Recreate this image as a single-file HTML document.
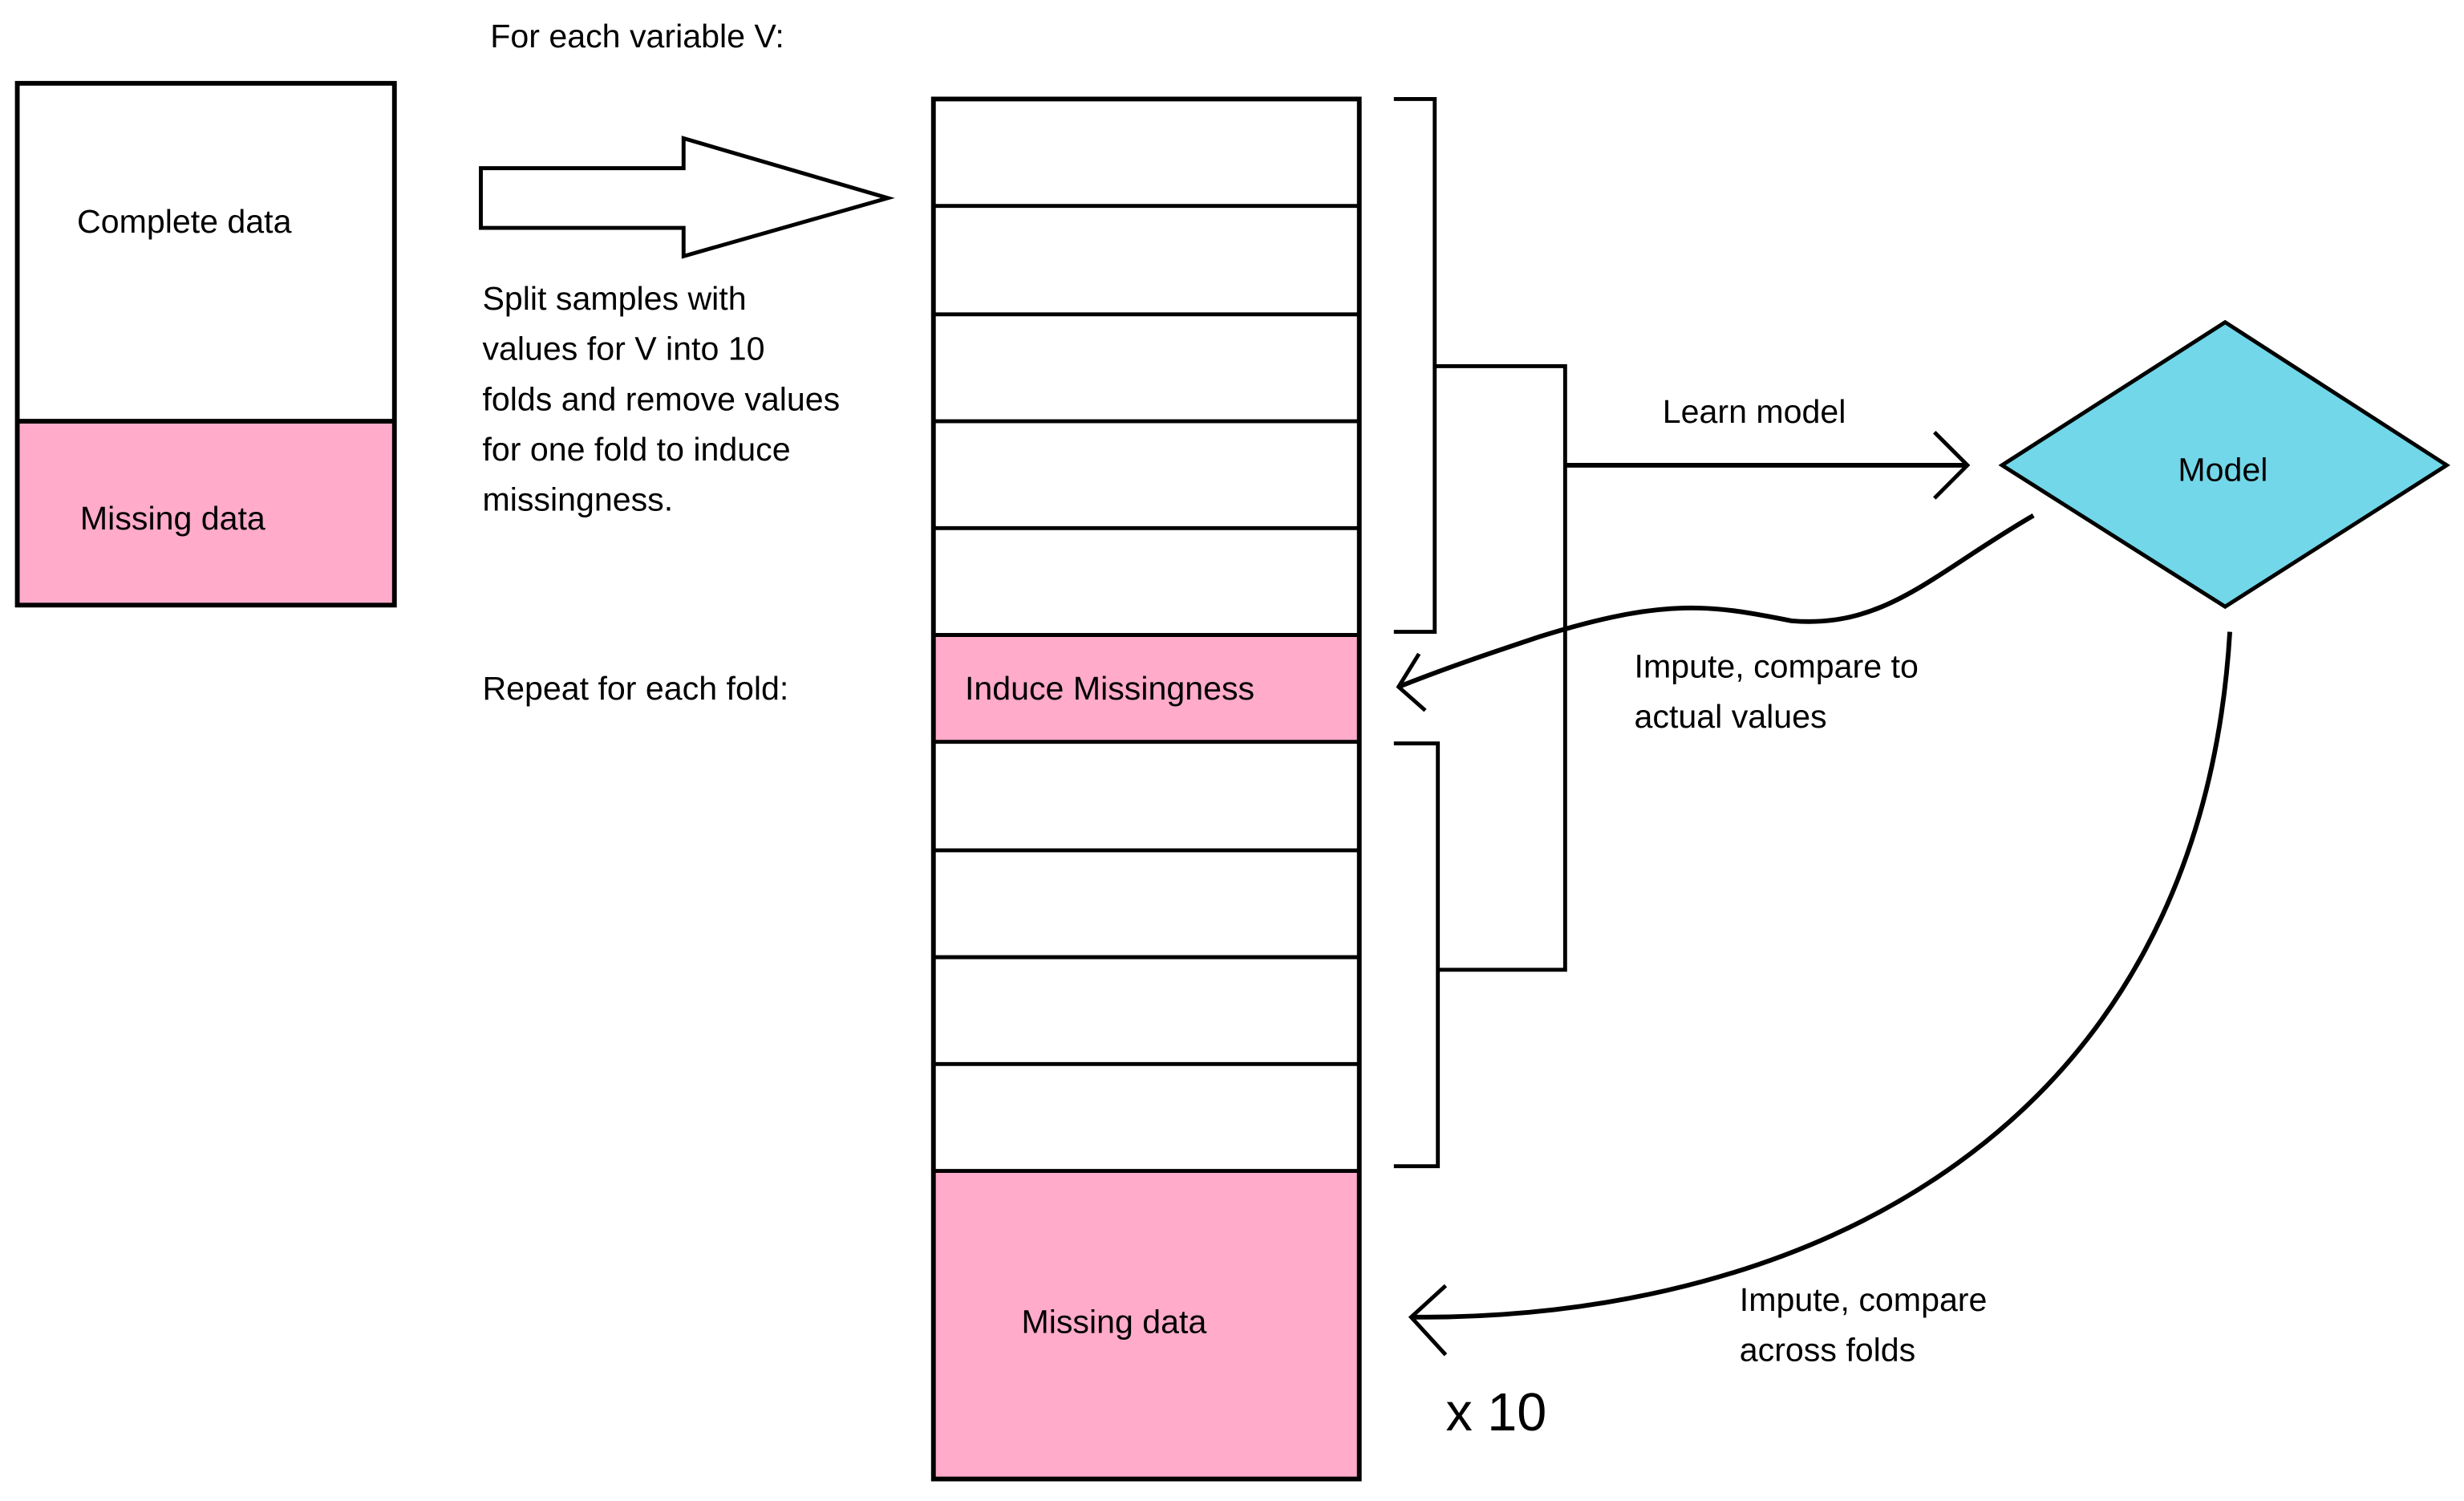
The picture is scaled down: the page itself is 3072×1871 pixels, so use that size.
<!DOCTYPE html>
<html><head><meta charset="utf-8"><style>html,body{margin:0;padding:0;background:#fff}svg{display:block}</style></head>
<body>
<svg width="3072" height="1871" viewBox="0 0 1568 955" xmlns="http://www.w3.org/2000/svg" font-family="Liberation Sans, sans-serif" font-size="21" fill="#000">
<rect x="0" y="0" width="1568" height="955" fill="#fff"/>
<!-- left box -->
<rect x="11" y="268" width="240" height="117" fill="#FFABC9"/>
<rect x="11" y="53" width="240" height="332" fill="none" stroke="#000" stroke-width="3"/>
<line x1="11" y1="268" x2="251" y2="268" stroke="#000" stroke-width="3"/>
<text x="49" y="148">Complete data</text>
<text x="51" y="337">Missing data</text>
<!-- big arrow -->
<polygon points="306,107 435,107 435,88 565,126 435,163 435,145 306,145" fill="#fff" stroke="#000" stroke-width="2.5"/>
<text x="312" y="30">For each variable V:</text>
<text x="307" y="197">Split samples with</text>
<text x="307" y="229">values for V into 10</text>
<text x="307" y="261">folds and remove values</text>
<text x="307" y="293">for one fold to induce</text>
<text x="307" y="325">missingness.</text>
<text x="307" y="445">Repeat for each fold:</text>
<!-- column -->
<rect x="594" y="404" width="271" height="68" fill="#FFABC9"/>
<rect x="594" y="745" width="271" height="196" fill="#FFABC9"/>
<rect x="594" y="63" width="271" height="878" fill="none" stroke="#000" stroke-width="3"/>
<g stroke="#000" stroke-width="2.5">
<line x1="594" y1="131" x2="865" y2="131"/><line x1="594" y1="200" x2="865" y2="200"/>
<line x1="594" y1="268" x2="865" y2="268"/><line x1="594" y1="336" x2="865" y2="336"/>
<line x1="594" y1="404" x2="865" y2="404"/><line x1="594" y1="472" x2="865" y2="472"/>
<line x1="594" y1="541" x2="865" y2="541"/><line x1="594" y1="609" x2="865" y2="609"/>
<line x1="594" y1="677" x2="865" y2="677"/><line x1="594" y1="745" x2="865" y2="745"/>
</g>
<text x="614" y="445">Induce Missingness</text>
<text x="650" y="848">Missing data</text>
<!-- brackets -->
<g fill="none" stroke="#000" stroke-width="2.5">
<polyline points="887,63 913,63 913,402 887,402"/>
<polyline points="913,233 996,233 996,617 915,617"/>
<polyline points="887,473 915,473 915,742 887,742"/>
<line x1="996" y1="296" x2="1252" y2="296" stroke-width="3"/>
<polyline points="1231,275 1252,296 1231,317"/>
<path d="M1294,328 C1230,365 1200,400 1140,395 C1090,385 1060,380 980,405 C950,415 920,425 890,437" stroke-width="3"/>
<polyline points="903,416 890,437 907,452"/>
<path d="M1419,402 C1400,720 1150,840 898,838" stroke-width="3"/>
<polyline points="920,818 898,838 920,862"/>
</g>
<polygon points="1416,205 1557,296 1416,386 1274,296" fill="#72D7E8" stroke="#000" stroke-width="2.5"/>
<text x="1386" y="306">Model</text>
<text x="1058" y="269">Learn model</text>
<text x="1040" y="431">Impute, compare to</text>
<text x="1040" y="463">actual values</text>
<text x="1107" y="834">Impute, compare</text>
<text x="1107" y="866">across folds</text>
<text x="920" y="910" font-size="34">x 10</text>
</svg>
</body></html>
